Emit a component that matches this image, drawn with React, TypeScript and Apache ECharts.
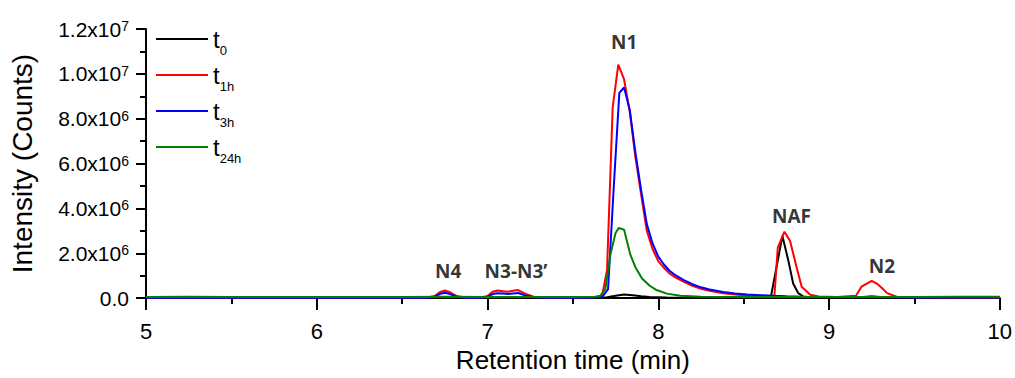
import React, { useEffect, useRef } from "react";
import * as echarts from "echarts";

const UNIT = 1e6;

// [retention time (min), intensity (x10^6 counts)]
const t0Data = [
  [5.0, 0.02], [5.3, 0.02], [5.6, 0.03], [5.9, 0.02], [6.2, 0.02], [6.5, 0.03], [6.8, 0.02],
  [7.1, 0.02], [7.4, 0.02], [7.65, 0.02], [7.7, 0.04], [7.75, 0.1], [7.8, 0.16], [7.85, 0.13],
  [7.9, 0.08], [7.95, 0.05], [8.05, 0.03], [8.2, 0.02], [8.4, 0.02], [8.6, 0.02], [8.66, 0.07],
  [8.693, 1.4], [8.727, 2.77], [8.762, 1.67], [8.79, 0.65], [8.82, 0.22], [8.85, 0.07], [8.9, 0.03],
  [9.1, 0.02], [9.4, 0.02], [9.7, 0.02], [10.0, 0.02],
];

const t1hData = [
  [5.0, 0.03], [5.3, 0.03], [5.6, 0.03], [5.9, 0.03], [6.2, 0.03], [6.5, 0.03], [6.65, 0.03],
  [6.69, 0.09], [6.72, 0.26], [6.75, 0.34], [6.78, 0.26], [6.82, 0.09], [6.87, 0.03], [6.96, 0.03],
  [7.0, 0.09], [7.03, 0.28], [7.06, 0.34], [7.09, 0.31], [7.12, 0.28], [7.15, 0.33], [7.18, 0.36],
  [7.22, 0.2], [7.27, 0.06], [7.35, 0.03], [7.5, 0.03], [7.62, 0.04], [7.67, 0.07], [7.7, 1.24],
  [7.733, 8.5], [7.766, 10.41], [7.8, 9.75], [7.833, 8.3], [7.866, 6.3], [7.9, 4.6], [7.933, 3.0],
  [7.966, 2.2], [8.0, 1.65], [8.033, 1.35], [8.066, 1.1], [8.1, 0.92], [8.15, 0.72], [8.2, 0.55],
  [8.25, 0.42], [8.3, 0.33], [8.38, 0.22], [8.45, 0.16], [8.52, 0.12], [8.6, 0.09], [8.68, 0.07],
  [8.7, 2.25], [8.739, 2.96], [8.772, 2.55], [8.81, 1.38], [8.84, 0.51], [8.89, 0.15], [8.94, 0.07],
  [9.05, 0.05], [9.158, 0.1], [9.19, 0.51], [9.25, 0.77], [9.28, 0.65], [9.31, 0.45], [9.34, 0.22],
  [9.4, 0.05], [9.5, 0.04], [9.75, 0.03], [10.0, 0.03],
];

const t3hData = [
  [5.0, 0.02], [5.3, 0.02], [5.6, 0.02], [5.9, 0.02], [6.2, 0.02], [6.5, 0.02], [6.65, 0.02],
  [6.69, 0.06], [6.72, 0.18], [6.75, 0.24], [6.78, 0.18], [6.82, 0.06], [6.87, 0.02], [6.96, 0.02],
  [7.0, 0.06], [7.03, 0.18], [7.06, 0.22], [7.09, 0.2], [7.12, 0.18], [7.15, 0.21], [7.18, 0.23],
  [7.22, 0.12], [7.27, 0.04], [7.35, 0.02], [7.5, 0.02], [7.62, 0.03], [7.673, 0.06], [7.706, 0.4],
  [7.739, 4.9], [7.772, 9.15], [7.8, 9.39], [7.833, 8.4], [7.866, 6.5], [7.9, 4.8], [7.933, 3.3],
  [7.966, 2.45], [8.0, 1.85], [8.033, 1.5], [8.066, 1.22], [8.1, 1.02], [8.15, 0.8], [8.2, 0.62],
  [8.25, 0.48], [8.3, 0.38], [8.38, 0.27], [8.45, 0.2], [8.52, 0.16], [8.6, 0.13], [8.68, 0.1],
  [8.75, 0.08], [8.85, 0.06], [9.0, 0.05], [9.2, 0.05], [9.25, 0.08], [9.3, 0.05], [9.5, 0.03],
  [9.75, 0.03], [10.0, 0.03],
];

const t24hData = [
  [5.0, 0.05], [5.25, 0.06], [5.5, 0.05], [5.75, 0.05], [6.0, 0.05], [6.25, 0.05], [6.5, 0.05],
  [6.75, 0.06], [7.0, 0.05], [7.25, 0.05], [7.5, 0.05], [7.63, 0.06], [7.66, 0.1], [7.69, 0.4],
  [7.72, 1.95], [7.75, 2.9], [7.768, 3.13], [7.8, 3.05], [7.836, 1.95], [7.866, 1.38], [7.905, 0.87],
  [7.95, 0.55], [7.99, 0.36], [8.05, 0.2], [8.13, 0.1], [8.25, 0.06], [8.5, 0.05], [8.75, 0.05],
  [9.0, 0.05], [9.25, 0.05], [9.5, 0.05], [9.75, 0.06], [10.0, 0.06],
];

const seriesNames = ["t0", "t1h", "t3h", "t24h"];
const seriesColors = ["#000000", "#ff0000", "#0000ff", "#008000"];
const seriesData = [t0Data, t1hData, t3hData, t24hData];

const peakNames = ["N4", "N3-N3\u2019", "N1", "NAF", "N2"];
const peakTimes = [6.77, 7.167, 7.8, 8.78, 9.31];
const peakLabelHeights = [1.21, 1.21, 11.43, 3.64, 1.41];

const xTicks = { min: 5, max: 10, interval: 1 };
const yTicks = { min: 0, max: 12e6, interval: 2e6 };

const FONT = "'Liberation Sans', Arial, sans-serif";

function yLabel(v: number): string {
  if (v === 0) return "{n|0.0}";
  const e = Math.floor(Math.log10(v) + 1e-9);
  const m = v / Math.pow(10, e);
  return `{n|${m.toFixed(1)}x10}{s|${e}}`;
}

export default function App() {
  const ref = useRef<HTMLDivElement>(null);
  useEffect(() => {
    if (!ref.current) return;
    const chart = echarts.init(ref.current, undefined, { renderer: "svg" });
    const lineSeries = seriesNames.map((name, i) => ({
      name,
      type: "line",
      data: seriesData[i].map(([t, v]) => [t, v * UNIT]),
      showSymbol: false,
      symbol: "none",
      lineStyle: { color: seriesColors[i], width: 2 },
      itemStyle: { color: seriesColors[i] },
      z: 2 + i,
    }));
    const labelSeries = {
      name: "labels",
      type: "scatter",
      symbolSize: 0,
      silent: true,
      z: 10,
      data: peakNames.map((n, i) => ({ name: n, value: [peakTimes[i], peakLabelHeights[i] * UNIT] })),
      label: {
        show: true,
        position: "inside",
        formatter: (p: any) => p.name,
        fontFamily: "'Open Sans', 'Noto Sans', sans-serif",
        fontWeight: "bold",
        fontSize: 19,
        color: "#000",
      },
    };
    chart.setOption({
      animation: false,
      backgroundColor: "#ffffff",
      grid: { left: 145, right: 15, top: 29, bottom: 73, containLabel: false },
      legend: {
        data: seriesNames,
        orient: "vertical",
        left: 156,
        top: 21,
        padding: 0,
        itemWidth: 52,
        itemHeight: 2,
        itemGap: 0,
        icon: "rect",
        selectedMode: false,
        formatter: (name: string) => `{m|t}{b|${name.slice(1)}}`,
        textStyle: {
          color: "#000",
          fontFamily: FONT,
          fontSize: 24,
          lineHeight: 36,
          rich: {
            m: { fontSize: 24, lineHeight: 36, fontFamily: FONT, color: "#000" },
            b: { fontSize: 13, lineHeight: 12, verticalAlign: "bottom", fontFamily: FONT, color: "#000" },
          },
        },
      },
      xAxis: {
        type: "value",
        min: xTicks.min,
        max: xTicks.max,
        interval: xTicks.interval,
        name: "Retention time (min)",
        nameLocation: "middle",
        nameGap: 34,
        nameTextStyle: { fontFamily: FONT, fontSize: 26, color: "#000" },
        axisLine: { show: true, onZero: false, lineStyle: { color: "#000", width: 2 } },
        axisTick: { show: true, inside: false, length: 12, lineStyle: { color: "#000", width: 2 } },
        minorTick: { show: true, splitNumber: 2, length: 6, lineStyle: { color: "#000", width: 2 } },
        axisLabel: { fontFamily: FONT, fontSize: 22, color: "#000", margin: 22 },
        splitLine: { show: false },
      },
      yAxis: {
        type: "value",
        min: yTicks.min,
        max: yTicks.max,
        interval: yTicks.interval,
        name: "Intensity (Counts)",
        nameLocation: "middle",
        nameRotate: 90,
        nameGap: 110,
        nameTextStyle: { fontFamily: FONT, fontSize: 28, color: "#000" },
        axisLine: { show: true, lineStyle: { color: "#000", width: 2 } },
        axisTick: { show: true, inside: false, length: 10, lineStyle: { color: "#000", width: 2 } },
        minorTick: { show: true, splitNumber: 2, length: 6, lineStyle: { color: "#000", width: 2 } },
        axisLabel: {
          margin: 17,
          formatter: yLabel,
          rich: {
            n: { fontFamily: FONT, fontSize: 21, lineHeight: 20, color: "#000" },
            s: { fontFamily: FONT, fontSize: 14, lineHeight: 13, verticalAlign: "top", color: "#000" },
          },
        },
        splitLine: { show: false },
      },
      series: [...lineSeries, labelSeries],
    });
    return () => chart.dispose();
  }, []);
  return (
    <div
      ref={ref}
      style={{ position: "fixed", left: 0, top: 0, width: 1015, height: 378, background: "#fff" }}
    />
  );
}
